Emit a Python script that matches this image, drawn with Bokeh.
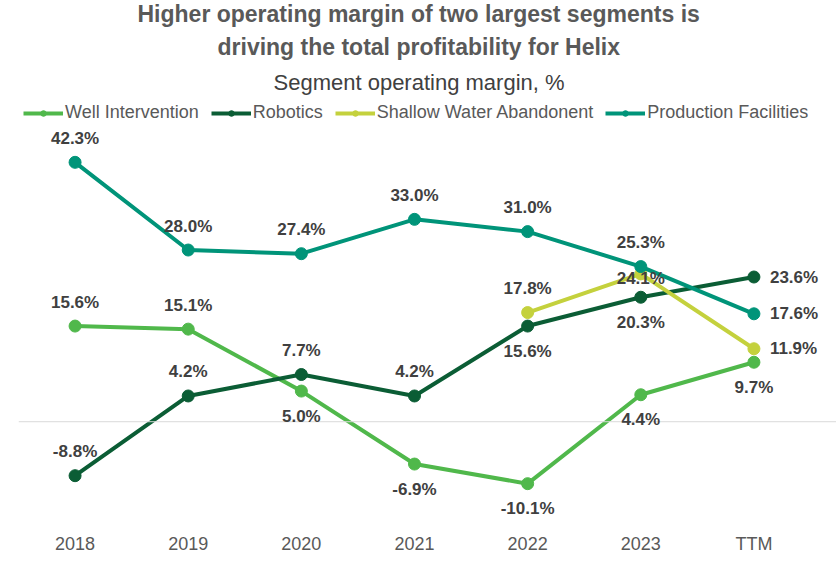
from bokeh.plotting import figure
from bokeh.models import (ColumnDataSource, Range1d, Span, Title, FixedTicker,
                          Legend, LegendItem, LabelSet)
from bokeh.core.properties import value
from bokeh.embed import file_html
from bokeh.resources import INLINE
import math

# ---------------- data ----------------
categories = ["2018", "2019", "2020", "2021", "2022", "2023", "TTM"]
well_intervention = [15.6, 15.1, 5.0, -6.9, -10.1, 4.4, 9.7]
robotics = [-8.8, 4.2, 7.7, 4.2, 15.6, 20.3, 23.6]
shallow_water = [float("nan"), float("nan"), float("nan"), float("nan"), 17.8, 24.1, 11.9]
production_facilities = [42.3, 28.0, 27.4, 33.0, 31.0, 25.3, 17.6]

series_names = ["Well Intervention", "Robotics", "Shallow Water Abandonent", "Production Facilities"]

# ---------------- styles ----------------
FONT = "Liberation Sans"
colors = {
    "Well Intervention": "#50B84B",
    "Robotics": "#0B5D35",
    "Shallow Water Abandonent": "#C4D13D",
    "Production Facilities": "#009479",
}
label_pos = {
    "Well Intervention": ["above", "above", "below", "below", "below", "below", "below"],
    "Robotics": ["above", "above", "above", "above", "below", "below", "right"],
    "Shallow Water Abandonent": [None, None, None, None, "above", "center", "right"],
    "Production Facilities": ["above", "above", "above", "above", "above", "above", "right"],
}
values = {
    "Well Intervention": well_intervention,
    "Robotics": robotics,
    "Shallow Water Abandonent": shallow_water,
    "Production Facilities": production_facilities,
}

# category slots centred at i + 0.5; extra room on the right for end labels
xpos = [i + 0.5 for i in range(len(categories))]

W, H = 836, 569
p = figure(width=W, height=H,
           x_range=Range1d(0, len(categories) + 26 / 113.14),
           y_range=Range1d(-15.29, 52.87),
           output_backend="svg", toolbar_location=None,
           min_border_left=18, min_border_right=0, min_border_bottom=54,
           min_border_top=0)
p.title.visible = False
p.outline_line_color = None
p.background_fill_color = "white"
p.border_fill_color = "white"
p.xgrid.grid_line_color = None
p.ygrid.grid_line_color = None
p.yaxis.visible = False
p.xaxis.ticker = FixedTicker(ticks=xpos)
p.xaxis.major_label_overrides = {x: c for x, c in zip(xpos, categories)}
p.xaxis.axis_line_color = None
p.xaxis.major_tick_line_color = None
p.xaxis.minor_tick_line_color = None
p.xaxis.major_label_text_font = FONT
p.xaxis.major_label_text_font_size = "18px"
p.xaxis.major_label_text_color = "#595959"
p.xaxis.major_label_standoff = 12

p.add_layout(Span(location=0, dimension="width", line_color="#D9D9D9", line_width=1))

items = []
for name in series_names:
    vals = values[name]
    src = ColumnDataSource(dict(x=xpos, y=vals))
    ln = p.line("x", "y", source=src, line_color=colors[name], line_width=4)
    mk = p.scatter("x", "y", source=src, size=12, fill_color=colors[name],
                   line_color=colors[name])
    items.append(LegendItem(label=name, renderers=[ln, mk]))

    lx, ly, lt, xo, yo, al = [], [], [], [], [], []
    for c, v, pos in zip(xpos, vals, label_pos[name]):
        if pos is None or (isinstance(v, float) and math.isnan(v)):
            continue
        lx.append(c); ly.append(v); lt.append(f"{v:.1f}%")
        if pos == "above":
            xo.append(0); yo.append(24); al.append("center")
        elif pos == "below":
            xo.append(0); yo.append(-25); al.append("center")
        elif pos == "center":
            xo.append(0); yo.append(-5); al.append("center")
        else:
            xo.append(16); yo.append(0); al.append("left")
    lsrc = ColumnDataSource(dict(x=lx, y=ly, t=lt, xo=xo, yo=yo, al=al))
    ls = LabelSet(x="x", y="y", text="t", source=lsrc, x_offset="xo", y_offset="yo",
                  text_align="al", text_baseline="middle",
                  text_font=value(FONT), text_font_size="17px", text_font_style="bold",
                  text_color="#404040")
    p.add_layout(ls)

legend = Legend(items=items, orientation="horizontal", location="top_left",
                label_text_font=FONT, label_text_font_size="18px",
                label_text_color="#595959", glyph_width=40, glyph_height=14,
                spacing=12, label_standoff=2, padding=2, margin=5,
                border_line_color=None, background_fill_alpha=0)
p.add_layout(legend)

p.add_layout(Title(text="Segment operating margin, %", align="left", offset=255,
                   text_font=FONT, text_font_size="22px", text_font_style="normal",
                   text_color="#404040", standoff=5), "above")
p.add_layout(Title(text="driving the total profitability for Helix", align="left",
                   offset=199, text_font=FONT, text_font_size="23px",
                   text_font_style="bold", text_color="#595959", standoff=12), "above")
try:
    t1 = Title(text="Higher operating margin of two largest segments is", align="left",
               offset=119, text_font=FONT, text_font_size="23px", text_font_style="bold",
               text_color="#595959", standoff=-3)
except Exception:
    t1 = Title(text="Higher operating margin of two largest segments is", align="left",
               offset=119, text_font=FONT, text_font_size="23px", text_font_style="bold",
               text_color="#595959", standoff=0)
p.add_layout(t1, "above")

open("out.html", "w").write(file_html(p, INLINE))
